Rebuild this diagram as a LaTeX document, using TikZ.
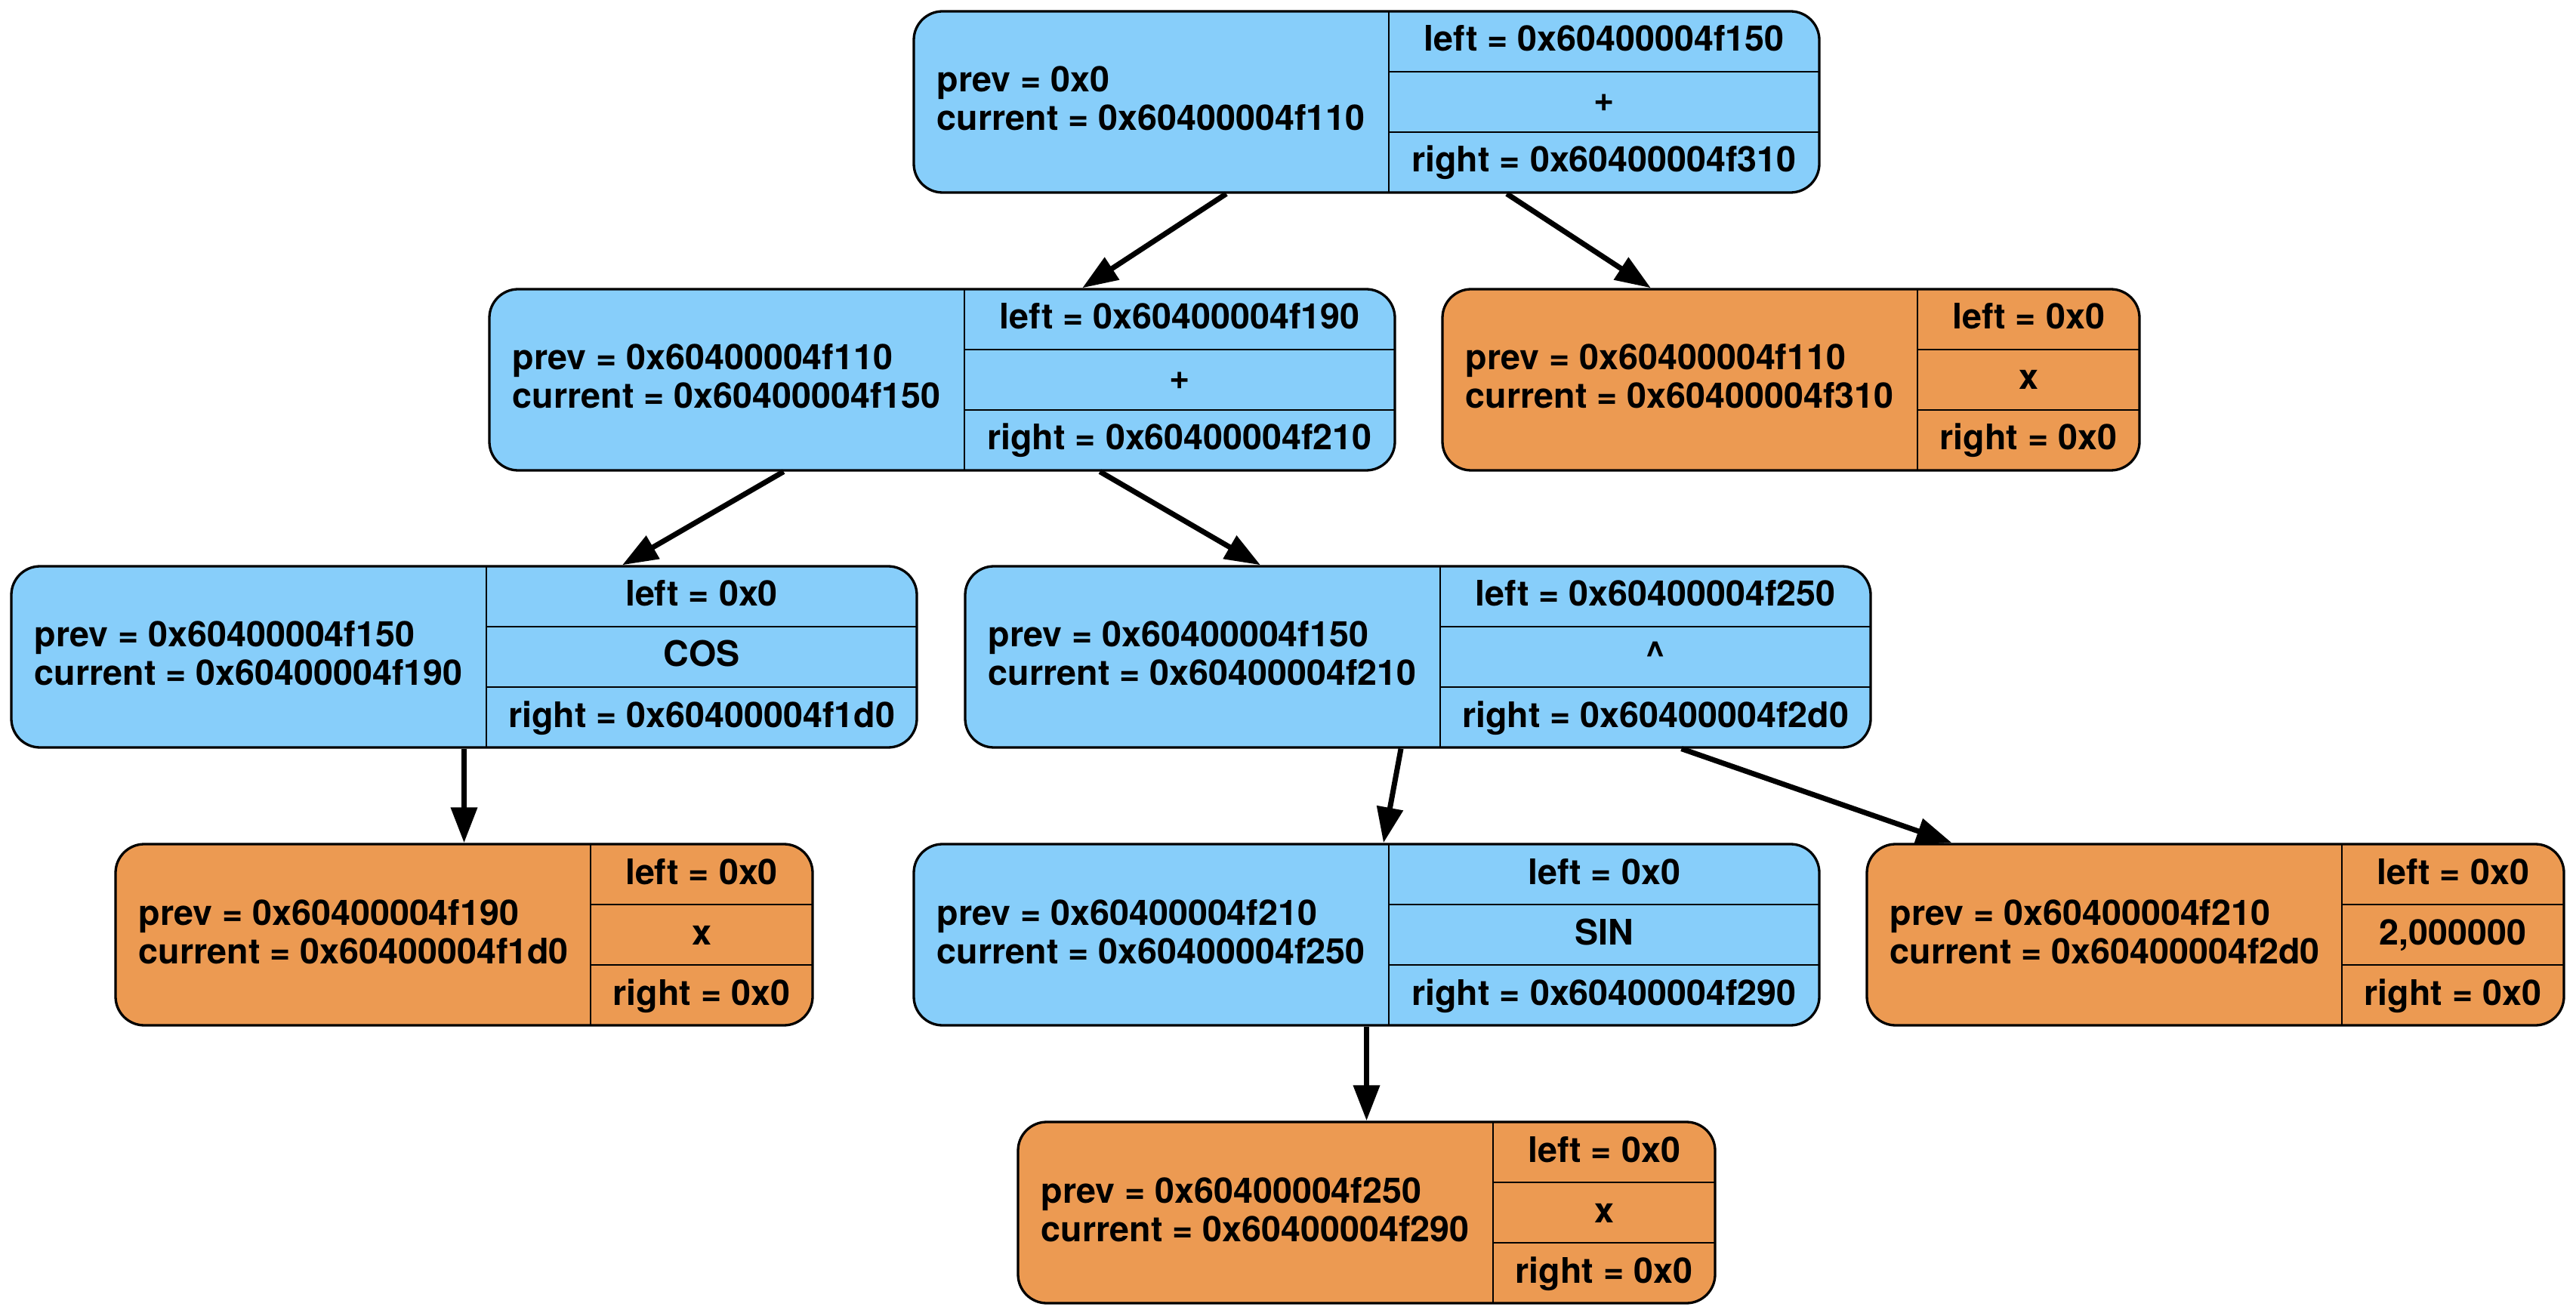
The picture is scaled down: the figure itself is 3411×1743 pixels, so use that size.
\documentclass[tikz,border=0pt]{standalone}
\usepackage{fontspec}
\setmainfont{TeX Gyre Heros}
\usetikzlibrary{fit,calc,arrows.meta}

\definecolor{nodeblue}{HTML}{87CEFA}
\definecolor{nodeorange}{HTML}{EC9A52}

\tikzset{
  record/.style={draw=black, line width=0.033cm, rounded corners=0.38cm, inner sep=0pt},
  opnode/.style={fill=nodeblue},
  leafnode/.style={fill=nodeorange},
  cell/.style={draw=black, line width=0.027cm},
  lbl/.style={inner sep=0pt, font=\fontsize{13.26pt}{15pt}\selectfont\bfseries},
  link/.style={draw=black, line width=0.07cm, -{Triangle[length=0.47cm,width=0.34cm]}},
}

% #1 name, #2 top-left corner, #3 width of the right column, #4 fill style,
% #5 prev, #6 current, #7 left, #8 operation, #9 right
\newcommand{\recordnode}[9]{%
  \coordinate (#1-nw) at (#2);
  \coordinate (#1-se) at ($(#1-nw)+(629+#3,240)$);
  \node[record, #4, fit=(#1-nw)(#1-se)] (#1) {};
  \draw[cell] ($(#1-nw)+(629,0)$) -- ($(#1-nw)+(629,240)$);
  \draw[cell] ($(#1-nw)+(629,80)$) -- ($(#1-nw)+(629+#3,80)$);
  \draw[cell] ($(#1-nw)+(629,160)$) -- ($(#1-nw)+(629+#3,160)$);
  \node[lbl, anchor=base west] (#1-prev) at ($(#1-nw)+(30,107)$) {prev = #5};
  \node[lbl, anchor=base west] (#1-cur) at ($(#1-nw)+(30,158)$) {current = #6};
  \node[lbl, anchor=base] (#1-left) at ($(#1-nw)+(629+#3/2,53)$) {left = #7};
  \node[lbl, anchor=base] (#1-op) at ($(#1-nw)+(629+#3/2,133)$) {#8};
  \node[lbl, anchor=base] (#1-right) at ($(#1-nw)+(629+#3/2,213)$) {right = #9};
}

\begin{document}
\begin{tikzpicture}[x=0.01cm, y=-0.01cm]
  \useasboundingbox (0,0) rectangle (3411,1743);

  \recordnode{nA}{1210,15}{570}{opnode}{0x0}{0x60400004f110}{0x60400004f150}{+}{0x60400004f310}
  \recordnode{nB}{648,383}{570}{opnode}{0x60400004f110}{0x60400004f150}{0x60400004f190}{+}{0x60400004f210}
  \recordnode{nC}{1910,383}{294}{leafnode}{0x60400004f110}{0x60400004f310}{0x0}{x}{0x0}
  \recordnode{nD}{15,750}{570}{opnode}{0x60400004f150}{0x60400004f190}{0x0}{COS}{0x60400004f1d0}
  \recordnode{nE}{1278,750}{570}{opnode}{0x60400004f150}{0x60400004f210}{0x60400004f250}{\textasciicircum}{0x60400004f2d0}
  \recordnode{nF}{153,1118}{294}{leafnode}{0x60400004f190}{0x60400004f1d0}{0x0}{x}{0x0}
  \recordnode{nG}{1210,1118}{570}{opnode}{0x60400004f210}{0x60400004f250}{0x0}{SIN}{0x60400004f290}
  \recordnode{nH}{2472,1118}{294}{leafnode}{0x60400004f210}{0x60400004f2d0}{0x0}{2,000000}{0x0}
  \recordnode{nI}{1348,1486}{294}{leafnode}{0x60400004f250}{0x60400004f290}{0x0}{x}{0x0}

  \draw[link] (nA) -- (nB);
  \draw[link] (nA) -- (nC);
  \draw[link] (nB) -- (nD);
  \draw[link] (nB) -- (nE);
  \draw[link] (nD) -- (nF);
  \draw[link] (nE) -- (nG);
  \draw[link] (nE) -- (nH);
  \draw[link] (nG) -- (nI);
\end{tikzpicture}
\end{document}
